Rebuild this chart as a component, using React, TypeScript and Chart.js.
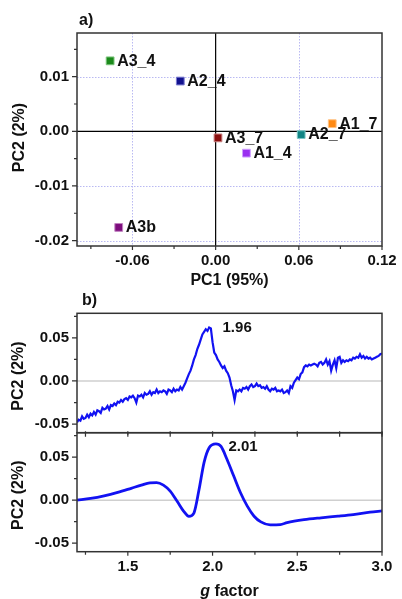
import React, { useEffect, useRef } from 'react';
import { Chart, registerables } from 'chart.js';

Chart.register(...registerables);

const FONT = "'Liberation Sans', Arial, Helvetica, sans-serif";
const TEXT = '#111111';
const FRAME = '#333333';
const LINE_BLUE = '#1212f2';

// ---------- Panel a) : PCA scores ----------
const SAMPLE_NAMES = ['A3_4', 'A2_4', 'A1_7', 'A2_7', 'A3_7', 'A1_4', 'A3b'];
const PC1_VALUES = [-0.0761, -0.0255, 0.0841, 0.0617, 0.0017, 0.0222, -0.0699];
const PC2_VALUES = [0.0129, 0.0092, 0.0014, -0.0006, -0.0012, -0.004, -0.0176];
const SAMPLE_COLORS = ['#1b8a1b', '#12128f', '#ff8a14', '#118585', '#8a0e0e', '#9a30f0', '#7d0d7d'];
const SAMPLE_BORDERS = ['#7cc47c', '#7a7ad0', '#ffc283', '#7cc6c6', '#c98080', '#cfa0ff', '#c183c1'];

const A_X_TICKS = [-0.09, -0.06, -0.03, 0, 0.03, 0.06, 0.09, 0.12];
const A_X_MAJOR = [-0.06, 0, 0.06, 0.12];
const A_Y_TICKS = [-0.02, -0.015, -0.01, -0.005, 0, 0.005, 0.01, 0.015];
const A_Y_MAJOR = [-0.02, -0.01, 0, 0.01];

// ---------- Panel b) : PC2 loadings vs g factor ----------
const G_START = 1.2;
const G_STEP = 0.01;
const B1_VALUES = [
  -0.048, -0.045, -0.046, -0.041, -0.044, -0.043, -0.039, -0.042, -0.038, -0.040,
  -0.036, -0.039, -0.034, -0.035, -0.037, -0.031, -0.033, -0.032, -0.029, -0.033,
  -0.028, -0.029, -0.026, -0.028, -0.024, -0.025, -0.022, -0.024, -0.021, -0.020,
  -0.022, -0.018, -0.019, -0.017, -0.020, -0.025, -0.017, -0.018, -0.016, -0.019,
  -0.014, -0.016, -0.015, -0.012, -0.016, -0.013, -0.014, -0.010, -0.014, -0.012,
  -0.013, -0.011, -0.012, -0.015, -0.010, -0.011, -0.013, -0.009, -0.012, -0.010,
  -0.011, -0.007, -0.010, -0.006, -0.002, 0.003, 0.008, 0.012, 0.018, 0.025,
  0.030, 0.037, 0.042, 0.048, 0.054, 0.057, 0.060, 0.058, 0.062, 0.061,
  0.045, 0.033, 0.030, 0.025, 0.022, 0.018, 0.015, 0.017, 0.012, 0.009,
  0.004, -0.005, -0.012, -0.022, -0.011, -0.012, -0.010, -0.012, -0.008, -0.009,
  -0.007, -0.010, -0.006, -0.004, -0.007, -0.006, -0.003, -0.006, -0.005, -0.008,
  -0.007, -0.009, -0.006, -0.010, -0.012, -0.009, -0.010, -0.008, -0.012, -0.011,
  -0.012, -0.010, -0.014, -0.013, -0.011, -0.014, -0.006, -0.008, -0.002, 0.001,
  0.004, 0.002, 0.008, 0.010, 0.016, 0.018, 0.017, 0.019, 0.018, 0.019,
  0.020, 0.019, 0.017, 0.021, 0.022, 0.019, 0.021, 0.025, 0.019, 0.023,
  0.012, 0.019, 0.024, 0.015, 0.027, 0.028, 0.021, 0.024, 0.022, 0.024,
  0.023, 0.025, 0.024, 0.027, 0.026, 0.028, 0.027, 0.031, 0.027, 0.029,
  0.026, 0.028, 0.026, 0.027, 0.025, 0.026, 0.027, 0.028, 0.029, 0.031,
  0.032,
];

const B2_G = [1.2, 1.28, 1.36, 1.44, 1.52, 1.58, 1.63, 1.67, 1.71, 1.75, 1.79, 1.83, 1.86, 1.89, 1.92, 1.95, 1.98, 2.02, 2.05, 2.085, 2.125, 2.165, 2.205, 2.245, 2.285, 2.34, 2.4, 2.44, 2.54, 2.64, 2.74, 2.83, 2.93, 3.0];
const B2_VALUES = [0.0, 0.002, 0.005, 0.009, 0.0138, 0.0175, 0.0202, 0.0205, 0.0175, 0.0105, -0.001, -0.013, -0.0188, -0.015, 0.012, 0.044, 0.061, 0.0655, 0.0625, 0.0476, 0.028, 0.0086, -0.007, -0.0187, -0.0253, -0.0288, -0.0285, -0.0262, -0.0228, -0.0206, -0.0187, -0.0168, -0.014, -0.0125];

const B_X_TICKS = [1.25, 1.5, 1.75, 2.0, 2.25, 2.5, 2.75, 3.0];
const B_X_MAJOR = [1.5, 2.0, 2.5, 3.0];
const B_Y_TICKS = [-0.05, -0.025, 0, 0.025, 0.05, 0.075];
const B_Y_MAJOR = [-0.05, 0, 0.05];

const B1_NOTE = { text: '1.96', g: 2.145, v: 0.062 };
const B2_NOTE = { text: '2.01', g: 2.18, v: 0.0626 };

// ---------- helpers ----------
const isIn = (arr: number[], v: number) => arr.some((m) => Math.abs(m - v) < 1e-9);

function makeScale(opts: {
  min: number; max: number; ticks: number[]; major: number[]; decimals: number;
  horizontal: boolean; size: number; showLabels: boolean; padding: number;
}) {
  return {
    type: 'linear',
    min: opts.min,
    max: opts.max,
    position: opts.horizontal ? 'bottom' : 'left',
    afterBuildTicks: (s: any) => {
      s.ticks = opts.ticks.map((v) => ({ value: v }));
    },
    afterFit: (s: any) => {
      if (opts.horizontal) s.height = opts.size;
      else s.width = opts.size;
      s.paddingTop = 0;
      s.paddingBottom = 0;
      s.paddingLeft = 0;
      s.paddingRight = 0;
    },
    grid: { display: false, drawTicks: false },
    border: { display: false },
    ticks: {
      display: opts.showLabels,
      autoSkip: false,
      maxRotation: 0,
      minRotation: 0,
      padding: opts.padding,
      color: TEXT,
      font: { family: FONT, size: 15, weight: 'bold' },
      callback: (v: any) => (isIn(opts.major, Number(v)) ? Number(v).toFixed(opts.decimals) : ''),
    },
  };
}

function boldText(ctx: CanvasRenderingContext2D, text: string, x: number, y: number, size: number, align: CanvasTextAlign = 'center', rotate = false) {
  ctx.save();
  ctx.font = `bold ${size}px ${FONT}`;
  ctx.fillStyle = TEXT;
  ctx.textAlign = align;
  ctx.textBaseline = 'middle';
  if (rotate) {
    ctx.translate(x, y);
    ctx.rotate(-Math.PI / 2);
    ctx.fillText(text, 0, 0);
  } else {
    ctx.fillText(text, x, y);
  }
  ctx.restore();
}

function drawFrame(ctx: CanvasRenderingContext2D, ca: any) {
  ctx.save();
  ctx.strokeStyle = FRAME;
  ctx.lineWidth = 1.5;
  ctx.setLineDash([]);
  ctx.strokeRect(ca.left, ca.top, ca.right - ca.left, ca.bottom - ca.top);
  ctx.restore();
}

function drawTickMarks(ctx: CanvasRenderingContext2D, chart: any, xTicks: number[], xMajor: number[], yTicks: number[], yMajor: number[], xLen: number, xTop: boolean) {
  const ca = chart.chartArea;
  const xs = chart.scales.x;
  const ys = chart.scales.y;
  ctx.save();
  ctx.strokeStyle = FRAME;
  ctx.lineWidth = 1.2;
  ctx.beginPath();
  yTicks.forEach((v) => {
    const py = ys.getPixelForValue(v);
    const len = isIn(yMajor, v) ? 5 : 3;
    ctx.moveTo(ca.left - len, py);
    ctx.lineTo(ca.left, py);
  });
  xTicks.forEach((v) => {
    const px = xs.getPixelForValue(v);
    const len = isIn(xMajor, v) ? xLen : xLen - 1;
    ctx.moveTo(px, ca.bottom);
    ctx.lineTo(px, ca.bottom + len);
    if (xTop) {
      ctx.moveTo(px, ca.top - 1.5);
      ctx.lineTo(px, ca.top + 4);
    }
  });
  ctx.stroke();
  ctx.restore();
}

// ---------- configs ----------
function configA(): any {
  const plugin = {
    id: 'panelA',
    beforeDatasetsDraw(chart: any) {
      const ctx = chart.ctx as CanvasRenderingContext2D;
      const ca = chart.chartArea;
      const xs = chart.scales.x;
      const ys = chart.scales.y;
      ctx.save();
      ctx.strokeStyle = '#b9b9f2';
      ctx.lineWidth = 1;
      ctx.setLineDash([1.5, 1.5]);
      ctx.beginPath();
      A_X_MAJOR.forEach((v) => {
        if (v === 0) return;
        const px = Math.round(xs.getPixelForValue(v)) + 0.5;
        if (px >= ca.right - 1) return;
        ctx.moveTo(px, ca.top);
        ctx.lineTo(px, ca.bottom);
      });
      A_Y_MAJOR.forEach((v) => {
        if (v === 0) return;
        const py = Math.round(ys.getPixelForValue(v)) + 0.5;
        ctx.moveTo(ca.left, py);
        ctx.lineTo(ca.right, py);
      });
      ctx.stroke();
      ctx.setLineDash([]);
      ctx.strokeStyle = '#000000';
      ctx.lineWidth = 1.2;
      ctx.beginPath();
      const x0 = xs.getPixelForValue(0);
      const y0 = ys.getPixelForValue(0);
      ctx.moveTo(x0, ca.top);
      ctx.lineTo(x0, ca.bottom);
      ctx.moveTo(ca.left, y0);
      ctx.lineTo(ca.right, y0);
      ctx.stroke();
      ctx.restore();
      drawFrame(ctx, ca);
      drawTickMarks(ctx, chart, A_X_TICKS, A_X_MAJOR, A_Y_TICKS, A_Y_MAJOR, 4, false);
    },
    afterDatasetsDraw(chart: any) {
      const ctx = chart.ctx as CanvasRenderingContext2D;
      const ca = chart.chartArea;
      const xs = chart.scales.x;
      const ys = chart.scales.y;
      SAMPLE_NAMES.forEach((name, i) => {
        const px = xs.getPixelForValue(PC1_VALUES[i]);
        const py = ys.getPixelForValue(PC2_VALUES[i]);
        boldText(ctx, name, px + 7, py + 0.5, 16, 'left');
      });
      boldText(ctx, 'a)', ca.left + 2, 21, 16, 'left');
      boldText(ctx, 'PC1 (95%)', (ca.left + ca.right) / 2, 281, 16);
      boldText(ctx, 'PC2 (2%)', 20, (ca.top + ca.bottom) / 2 - 2, 16, 'center', true);
    },
  };
  return {
    type: 'scatter',
    data: {
      datasets: [
        {
          data: PC1_VALUES.map((x, i) => ({ x, y: PC2_VALUES[i] })),
          pointStyle: 'rect',
          pointRadius: 5.5,
          pointBackgroundColor: SAMPLE_COLORS,
          pointBorderColor: SAMPLE_BORDERS,
          pointBorderWidth: 1,
        },
      ],
    },
    options: {
      responsive: false,
      animation: false,
      devicePixelRatio: 1,
      layout: { padding: { top: 33, right: 20, left: 0, bottom: 0 } },
      plugins: { legend: { display: false }, tooltip: { enabled: false } },
      scales: {
        x: makeScale({ min: -0.1, max: 0.12, ticks: A_X_TICKS, major: A_X_MAJOR, decimals: 2, horizontal: true, size: 54, showLabels: true, padding: 6 }),
        y: makeScale({ min: -0.021, max: 0.018, ticks: A_Y_TICKS, major: A_Y_MAJOR, decimals: 2, horizontal: false, size: 77, showLabels: true, padding: 8 }),
      },
    },
    plugins: [plugin],
  };
}

function configB(which: 1 | 2): any {
  const points =
    which === 1
      ? B1_VALUES.map((v, i) => ({ x: G_START + i * G_STEP, y: v }))
      : B2_G.map((g, i) => ({ x: g, y: B2_VALUES[i] }));
  const note = which === 1 ? B1_NOTE : B2_NOTE;
  const plugin = {
    id: 'panelB' + which,
    beforeDatasetsDraw(chart: any) {
      const ctx = chart.ctx as CanvasRenderingContext2D;
      const ca = chart.chartArea;
      const ys = chart.scales.y;
      ctx.save();
      ctx.strokeStyle = '#cfcfcf';
      ctx.lineWidth = 1.5;
      ctx.beginPath();
      const y0 = ys.getPixelForValue(0);
      ctx.moveTo(ca.left, y0);
      ctx.lineTo(ca.right, y0);
      ctx.stroke();
      ctx.restore();
    },
    afterDatasetsDraw(chart: any) {
      const ctx = chart.ctx as CanvasRenderingContext2D;
      const ca = chart.chartArea;
      const xs = chart.scales.x;
      const ys = chart.scales.y;
      drawFrame(ctx, ca);
      drawTickMarks(ctx, chart, B_X_TICKS, B_X_MAJOR, B_Y_TICKS, B_Y_MAJOR, which === 1 ? 2 : 4, which === 2);
      boldText(ctx, note.text, xs.getPixelForValue(note.g), ys.getPixelForValue(note.v), 15);
      boldText(ctx, 'PC2 (2%)', 18.5, (ca.top + ca.bottom) / 2 + 3, 16, 'center', true);
      if (which === 1) {
        boldText(ctx, 'b)', ca.left + 5, 11, 16, 'left');
      } else {
        ctx.save();
        ctx.fillStyle = TEXT;
        ctx.textBaseline = 'middle';
        const italic = `italic bold 16px ${FONT}`;
        const bold = `bold 16px ${FONT}`;
        ctx.font = italic;
        const wg = ctx.measureText('g').width;
        ctx.font = bold;
        const wr = ctx.measureText(' factor').width;
        const cx = (ca.left + ca.right) / 2;
        const start = cx - (wg + wr) / 2;
        const ty = 162;
        ctx.font = italic;
        ctx.textAlign = 'left';
        ctx.fillText('g', start, ty);
        ctx.font = bold;
        ctx.fillText(' factor', start + wg, ty);
        ctx.restore();
      }
    },
  };
  return {
    type: 'line',
    data: {
      datasets: [
        {
          data: points,
          borderColor: LINE_BLUE,
          borderWidth: which === 1 ? 2.2 : 2.8,
          pointRadius: 0,
          fill: false,
          tension: which === 1 ? 0 : 0.4,
          cubicInterpolationMode: which === 1 ? 'default' : 'monotone',
        },
      ],
    },
    options: {
      responsive: false,
      animation: false,
      devicePixelRatio: 1,
      layout: { padding: which === 1 ? { top: 23.3, right: 20, left: 0, bottom: 0 } : { top: 2.7, right: 20, left: 0, bottom: 0 } },
      plugins: { legend: { display: false }, tooltip: { enabled: false } },
      scales: {
        x: makeScale({ min: 1.2, max: 3.0, ticks: B_X_TICKS, major: B_X_MAJOR, decimals: 1, horizontal: true, size: which === 1 ? 7.3 : 47.3, showLabels: which === 2, padding: 6 }),
        y: makeScale({ min: -0.06, max: 0.0785, ticks: B_Y_TICKS, major: B_Y_MAJOR, decimals: 2, horizontal: false, size: 77, showLabels: true, padding: 8 }),
      },
    },
    plugins: [plugin],
  };
}

export default function App() {
  const aRef = useRef<HTMLCanvasElement>(null);
  const b1Ref = useRef<HTMLCanvasElement>(null);
  const b2Ref = useRef<HTMLCanvasElement>(null);

  useEffect(() => {
    const charts = [
      new Chart(aRef.current as HTMLCanvasElement, configA()),
      new Chart(b1Ref.current as HTMLCanvasElement, configB(1)),
      new Chart(b2Ref.current as HTMLCanvasElement, configB(2)),
    ];
    return () => charts.forEach((c) => c.destroy());
  }, []);

  return (
    <div style={{ position: 'absolute', left: 0, top: 0, width: 402, height: 599, background: '#ffffff', overflow: 'hidden' }}>
      <canvas ref={aRef} width={402} height={300} style={{ position: 'absolute', left: 0, top: 0 }} />
      <canvas ref={b1Ref} width={402} height={150} style={{ position: 'absolute', left: 0, top: 290 }} />
      <canvas ref={b2Ref} width={402} height={169} style={{ position: 'absolute', left: 0, top: 430 }} />
    </div>
  );
}
